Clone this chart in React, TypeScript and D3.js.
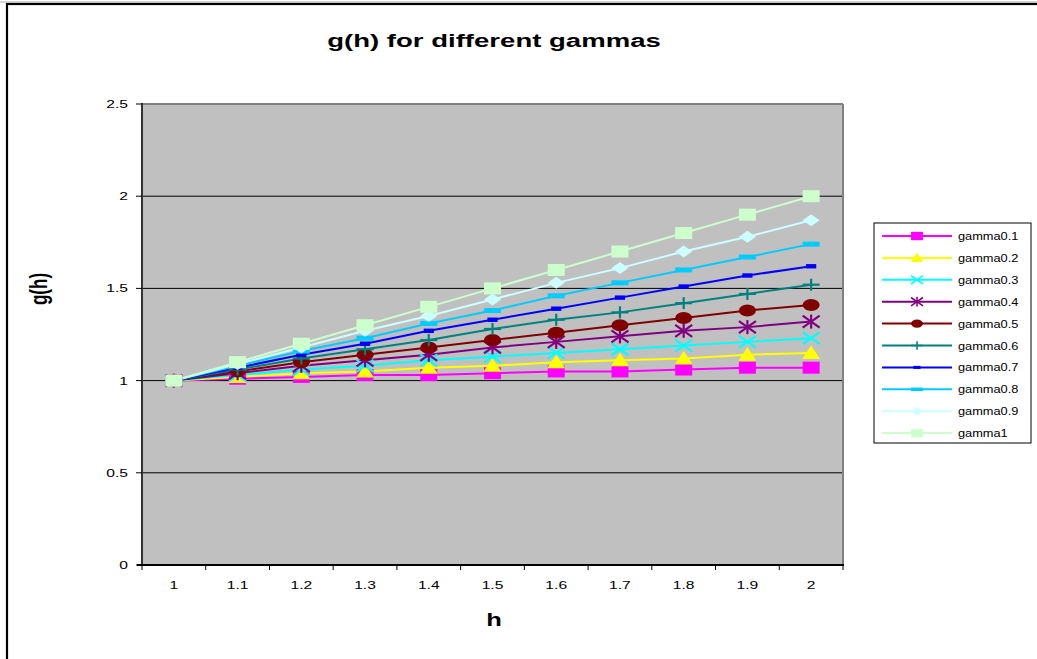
import React from "react";
import * as d3 from "d3";

const hValues = ["1", "1.1", "1.2", "1.3", "1.4", "1.5", "1.6", "1.7", "1.8", "1.9", "2"];
const yTicks = [0, 0.5, 1, 1.5, 2, 2.5];

const gamma01 = [1, 1.01, 1.02, 1.03, 1.03, 1.04, 1.05, 1.05, 1.06, 1.07, 1.07];
const gamma02 = [1, 1.02, 1.04, 1.05, 1.07, 1.08, 1.10, 1.11, 1.12, 1.14, 1.15];
const gamma03 = [1, 1.03, 1.06, 1.08, 1.11, 1.13, 1.15, 1.17, 1.19, 1.21, 1.23];
const gamma04 = [1, 1.04, 1.08, 1.11, 1.14, 1.18, 1.21, 1.24, 1.27, 1.29, 1.32];
const gamma05 = [1, 1.05, 1.10, 1.14, 1.18, 1.22, 1.26, 1.30, 1.34, 1.38, 1.41];
const gamma06 = [1, 1.06, 1.12, 1.17, 1.22, 1.28, 1.33, 1.37, 1.42, 1.47, 1.52];
const gamma07 = [1, 1.07, 1.14, 1.20, 1.27, 1.33, 1.39, 1.45, 1.51, 1.57, 1.62];
const gamma08 = [1, 1.08, 1.16, 1.23, 1.31, 1.38, 1.46, 1.53, 1.60, 1.67, 1.74];
const gamma09 = [1, 1.09, 1.18, 1.27, 1.35, 1.44, 1.53, 1.61, 1.70, 1.78, 1.87];
const gamma10 = [1, 1.1, 1.2, 1.3, 1.4, 1.5, 1.6, 1.7, 1.8, 1.9, 2];

const seriesNames = ["gamma0.1", "gamma0.2", "gamma0.3", "gamma0.4", "gamma0.5", "gamma0.6", "gamma0.7", "gamma0.8", "gamma0.9", "gamma1"];
const seriesValues = [gamma01, gamma02, gamma03, gamma04, gamma05, gamma06, gamma07, gamma08, gamma09, gamma10];
const seriesColors = ["#FF00FF", "#FFFF00", "#00FFFF", "#800080", "#800000", "#008080", "#0000FF", "#00CCFF", "#CCFFFF", "#CCFFCC"];
const seriesMarkers = ["square", "triangle", "x", "star", "circle", "plus", "shortdash", "longdash", "diamond", "square"];

const FONT = "Arial, 'Liberation Sans', Helvetica, sans-serif";

function T(props: { x: number; y: number; size: number; sx?: number; bold?: boolean; anchor?: string; rotate?: boolean; children: any }) {
  const { x, y, size, sx, bold, anchor, rotate, children } = props;
  return (
    <text
      transform={`translate(${x},${y}) scale(${sx || 1.42},1)${rotate ? " rotate(-90)" : ""}`}
      fontFamily={FONT}
      fontSize={size}
      fontWeight={bold ? "bold" : "normal"}
      textAnchor={anchor || "start"}
      fill="#000"
    >
      {children}
    </text>
  );
}

function Marker(props: { type: string; color: string; cx: number; cy: number; k: number }) {
  const { type, color, cx, cy, k } = props;
  const w = 8.5 * k;
  const h = 6 * k;
  const sw = 2.2 * k;
  let el: any = null;
  switch (type) {
    case "square":
      el = <rect x={-w} y={-h} width={2 * w} height={2 * h} fill={color} />;
      break;
    case "triangle":
      el = <polygon points={`0,${-h - 1.5 * k} ${w + 0.5 * k},${h} ${-w - 0.5 * k},${h}`} fill={color} />;
      break;
    case "x":
      el = (
        <g stroke={color} strokeWidth={sw}>
          <line x1={-w} y1={-h} x2={w} y2={h} />
          <line x1={-w} y1={h} x2={w} y2={-h} />
        </g>
      );
      break;
    case "star":
      el = (
        <g stroke={color} strokeWidth={sw}>
          <line x1={-w} y1={-h} x2={w} y2={h} />
          <line x1={-w} y1={h} x2={w} y2={-h} />
          <line x1={0} y1={-h - 1 * k} x2={0} y2={h + 1 * k} />
        </g>
      );
      break;
    case "circle":
      el = <ellipse cx={0} cy={0} rx={w} ry={h} fill={color} />;
      break;
    case "plus":
      el = (
        <g stroke={color} strokeWidth={sw}>
          <line x1={-w} y1={0} x2={w} y2={0} />
          <line x1={0} y1={-h} x2={0} y2={h} />
        </g>
      );
      break;
    case "shortdash":
      el = <rect x={-w * 0.6} y={-2.2 * k} width={w * 1.2} height={4.4 * k} fill={color} />;
      break;
    case "longdash":
      el = <rect x={-w} y={-2.5 * k} width={2 * w} height={5 * k} fill={color} />;
      break;
    case "diamond":
      el = <polygon points={`0,${-h} ${w},0 0,${h} ${-w},0`} fill={color} />;
      break;
  }
  return <g transform={`translate(${cx},${cy})`}>{el}</g>;
}

export default function App() {
  const left = 142, right = 843, top = 104, bottom = 565;
  const x = d3.scaleBand<string>().domain(hValues).range([left, right]).padding(0);
  const y = d3.scaleLinear().domain([0, 2.5]).range([bottom, top]);
  const cx = (h: string) => (x(h) as number) + x.bandwidth() / 2;
  const line = d3
    .line<number>()
    .x((_, i) => cx(hValues[i]))
    .y((v) => y(v));

  const legX = 874, legY = 223, legW = 157, legH = 220;
  const rowStep = 21.9;

  return (
    <svg width={1037} height={659} style={{ position: "absolute", left: 0, top: 0, background: "#fff" }}>
      {/* outer chart border */}
      <line x1={0} y1={2} x2={1037} y2={2} stroke="#c8c8c8" strokeWidth={1.5} />
      <rect x={7} y={4} width={1100} height={700} fill="none" stroke="#000" strokeWidth={2.2} />

      {/* title */}
      <T x={494} y={47} size={19} sx={1.45} bold anchor="middle">g(h) for different gammas</T>

      {/* plot area */}
      <rect x={left} y={top} width={right - left} height={bottom - top} fill="#C0C0C0" />
      {yTicks.filter((t) => t > 0 && t < 2.5).map((t) => (
        <line key={"g" + t} x1={left} x2={right} y1={y(t)} y2={y(t)} stroke="#000" strokeWidth={1} />
      ))}
      <line x1={left} x2={right} y1={top} y2={top} stroke="#808080" strokeWidth={2} />
      <line x1={right} x2={right} y1={top} y2={bottom} stroke="#808080" strokeWidth={2} />

      {/* series lines */}
      {seriesValues.map((vals, si) => (
        <path key={"l" + si} d={line(vals) as string} fill="none" stroke={seriesColors[si]} strokeWidth={2} />
      ))}
      {/* series markers */}
      {seriesValues.map((vals, si) => (
        <g key={"m" + si}>
          {vals.map((v, i) => (
            <Marker key={i} type={seriesMarkers[si]} color={seriesColors[si]} cx={cx(hValues[i])} cy={y(v)} k={1} />
          ))}
        </g>
      ))}

      {/* axes */}
      <line x1={left} x2={left} y1={top - 1} y2={bottom} stroke="#333" strokeWidth={2} />
      <line x1={left - 5} x2={right + 1} y1={bottom} y2={bottom} stroke="#000" strokeWidth={2} />
      {yTicks.map((t) => (
        <g key={"yt" + t}>
          <line x1={left - 6} x2={left} y1={y(t)} y2={y(t)} stroke="#000" strokeWidth={1} />
          <T x={128} y={y(t) + 4} size={11} anchor="end">{String(t)}</T>
        </g>
      ))}
      {hValues.map((h, i) => (
        <line key={"xt" + i} x1={x(h) as number} x2={x(h) as number} y1={bottom} y2={bottom + 5} stroke="#000" strokeWidth={1} />
      ))}
      <line x1={right} x2={right} y1={bottom} y2={bottom + 5} stroke="#000" strokeWidth={1} />
      {hValues.map((h) => (
        <T key={"xl" + h} x={cx(h)} y={589} size={11} anchor="middle">{h}</T>
      ))}

      {/* axis titles */}
      <T x={494} y={626} size={18} bold anchor="middle">h</T>
      <T x={47} y={289} size={17} bold anchor="middle" rotate>g(h)</T>

      {/* legend */}
      <rect x={legX} y={legY} width={legW} height={legH} fill="#fff" stroke="#000" strokeWidth={1} />
      {seriesNames.map((name, si) => {
        const ry = legY + 13 + si * rowStep;
        return (
          <g key={"lg" + si}>
            <line x1={882} x2={952} y1={ry} y2={ry} stroke={seriesColors[si]} strokeWidth={2} />
            <Marker type={seriesMarkers[si]} color={seriesColors[si]} cx={917} cy={ry} k={0.7} />
            <T x={958} y={ry + 4} size={10} sx={1.28}>{name}</T>
          </g>
        );
      })}
    </svg>
  );
}
